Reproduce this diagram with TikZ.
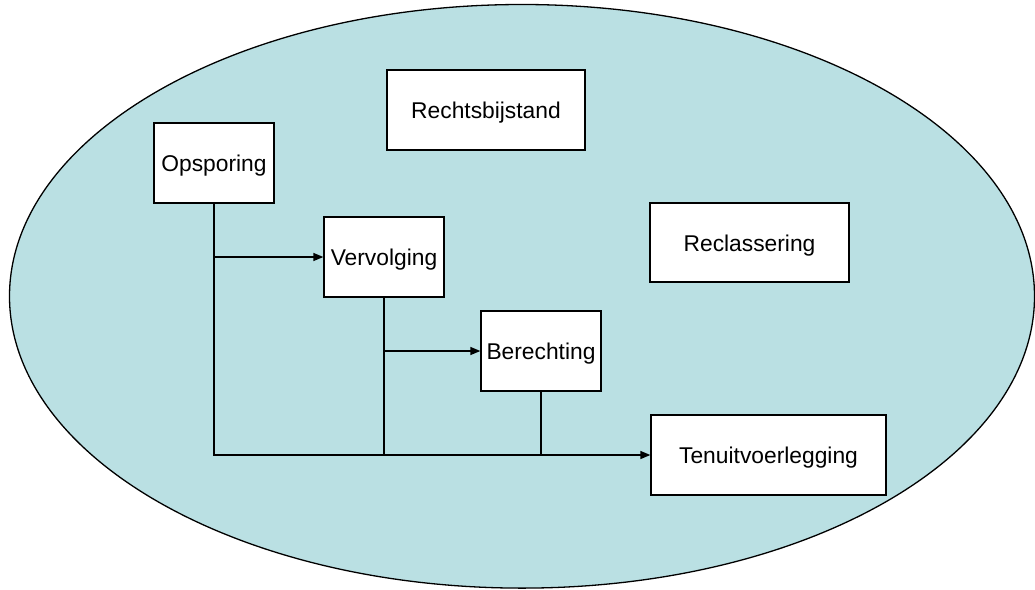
\documentclass[tikz,border=0pt]{standalone}
\usepackage{fontspec}
\setmainfont{Liberation Sans}
\usepackage{tikz}
\usetikzlibrary{shapes,arrows.meta}
\definecolor{veld}{RGB}{186,224,227}
\begin{document}
\begin{tikzpicture}[x=1pt,y=-1pt]
      \tikzstyle{fase}=[rectangle,draw,fill=white,line width=1.3pt,inner sep=0pt,minimum width=120pt,minimum height=80pt,text height=19pt,text depth=2pt,font=\fontsize{22.8}{27}\selectfont]
      \tikzstyle{lijn}=[line width=1.3pt]
      \tikzstyle{pijl}=[lijn,-{Triangle[length=10pt,width=8pt]}]
      \useasboundingbox (0,0) rectangle (1035,589);
      \draw[fill=veld,line width=1.3pt] (522,296.3) ellipse [x radius=512.5pt,y radius=291.8pt];
      \node[fase] (opsporing) at (214,163) {Opsporing};
      \node[fase] (vervolging) at (384,257) {Vervolging};
      \node[fase] (berechting) at (541,351) {Berechting};
      \node[fase,minimum width=198pt] (rechtsbijstand) at (486,110) {Rechtsbijstand};
      \node[fase,minimum width=199pt,minimum height=79pt] (reclassering) at (749.5,242.5) {Reclassering};
      \node[fase,minimum width=235pt] (tenuitvoerlegging) at (768.5,455) {Tenuitvoerlegging};
      \draw[pijl] (opsporing.south) |- (tenuitvoerlegging.west);
      \draw[lijn] (vervolging.south) -- (vervolging.south |- tenuitvoerlegging.west);
      \draw[lijn] (berechting.south) -- (berechting.south |- tenuitvoerlegging.west);
      \draw[pijl] (opsporing.south |- vervolging.west) -- (vervolging.west);
      \draw[pijl] (vervolging.south |- berechting.west) -- (berechting.west);
\end{tikzpicture}
\end{document}
